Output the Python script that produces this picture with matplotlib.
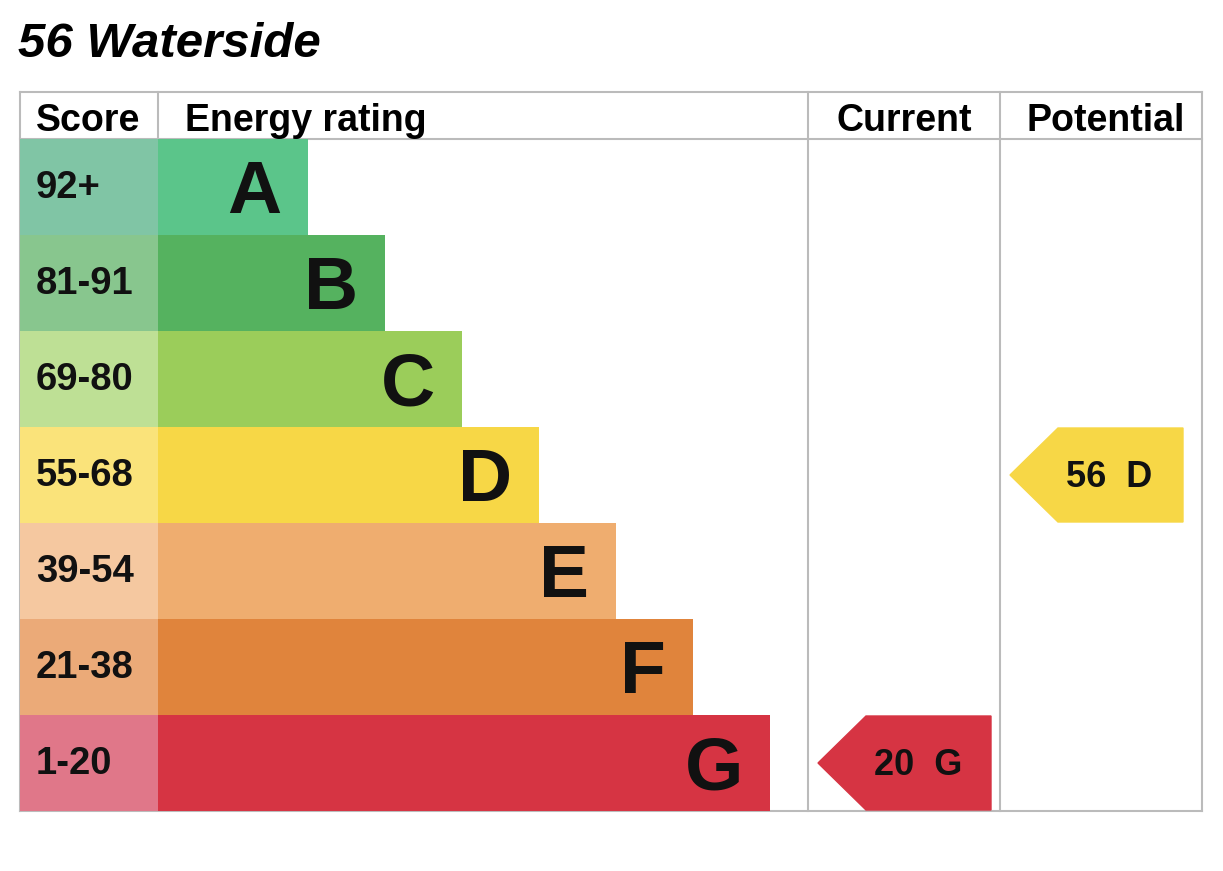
import matplotlib.pyplot as plt
from matplotlib.patches import Polygon

plt.rcParams['font.family'] = ['Liberation Sans', 'DejaVu Sans']

title = '56 Waterside'
bands = ['A', 'B', 'C', 'D', 'E', 'F', 'G']
score_labels = ['92+', '81-91', '69-80', '55-68', '39-54', '21-38', '1-20']
bar_colors = ['#5bc58a', '#55b25f', '#9bcd5a', '#f7d746', '#efad6f', '#e0843c', '#d63443']
cell_colors = ['#80c5a5', '#88c68e', '#bee095', '#fae37a', '#f5c8a0', '#ebaa78', '#e07789']
current_score, current_band = 20, 'G'
potential_score, potential_band = 56, 'D'

fig = plt.figure(figsize=(12.23, 8.71), dpi=100)
ax = fig.add_axes([0, 0, 1, 1])
ax.set_xlim(0, 1223)
ax.set_ylim(871, 0)
ax.axis('off')

# layout (pixels)
left, score_w, top, head_h, row_h = 20, 138, 92, 47, 96
cur_x0, pot_x0, right = 808, 1000, 1202
bar_x0 = left + score_w
body_top = top + head_h
bottom = body_top + row_h * len(bands)

centers = [body_top + row_h * (i + 0.5) for i in range(len(bands))]
widths = [150 + 77 * i for i in range(len(bands))]

ax.barh(centers, [score_w] * len(bands), left=left, height=row_h, color=cell_colors, zorder=2)
ax.barh(centers, widths, left=bar_x0, height=row_h, color=bar_colors, zorder=2)

for i, b in enumerate(bands):
    ax.text(36, centers[i] + 11, score_labels[i], fontsize=27.5, fontweight='bold',
            ha='left', va='baseline', color='#111111', zorder=3)
    ax.text(bar_x0 + widths[i] - 27, centers[i] + 26, b, fontsize=54, fontweight='bold',
            ha='right', va='baseline', color='#111111', zorder=3)

# grid lines
lc = '#bbbbbb'
lw = 1.5
for y in [top, body_top, bottom]:
    ax.plot([left, right], [y, y], color=lc, lw=lw, zorder=1)
for x in [left, cur_x0, pot_x0, right]:
    ax.plot([x, x], [top, bottom], color=lc, lw=lw, zorder=1)
ax.plot([bar_x0, bar_x0], [top, body_top], color=lc, lw=lw, zorder=1)

# headers
hy = 131
ax.text(36, hy, 'Score', fontsize=27, fontweight='bold', ha='left', va='baseline')
ax.text(185, hy, 'Energy rating', fontsize=27, fontweight='bold', ha='left', va='baseline')
ax.text((cur_x0 + pot_x0) / 2, hy, 'Current', fontsize=27, fontweight='bold', ha='center', va='baseline')
ax.text((pot_x0 + right) / 2 + 5, hy, 'Potential', fontsize=27, fontweight='bold', ha='center', va='baseline')

# title
ax.text(18, 57, title, fontsize=35.5, fontweight='bold', fontstyle='italic', ha='left', va='baseline')


def arrow(col_x0, score, band):
    i = bands.index(band)
    yc = centers[i]
    half = row_h / 2 - 1
    tip = col_x0 + 10
    end = col_x0 + 183
    pts = [(tip, yc), (tip + 48, yc - half), (end, yc - half), (end, yc + half), (tip + 48, yc + half)]
    ax.add_patch(Polygon(pts, closed=True, color=bar_colors[i], zorder=2))
    ax.text(tip + 56, yc + 12, f'{score}  {band}', fontsize=26, fontweight='bold',
            ha='left', va='baseline', color='#111111', zorder=3)


arrow(cur_x0, current_score, current_band)
arrow(pot_x0, potential_score, potential_band)

fig.savefig('out.png', dpi=100)
